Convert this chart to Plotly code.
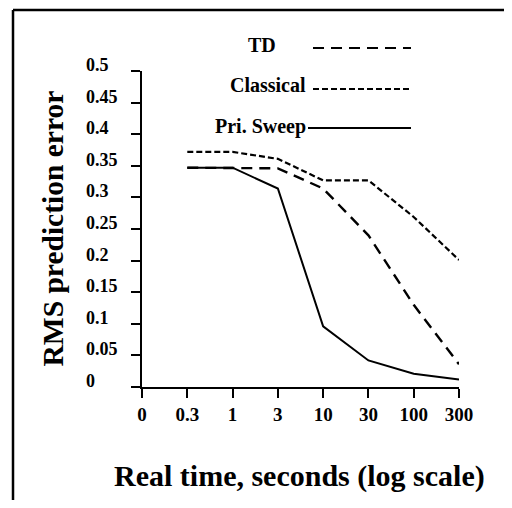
import plotly.graph_objects as go

# ---- data ----
x_labels = ["0", "0.3", "1", "3", "10", "30", "100", "300"]
x_points = ["0.3", "1", "3", "10", "30", "100", "300"]
td = [0.347, 0.347, 0.346, 0.314, 0.240, 0.130, 0.036]
classical = [0.372, 0.372, 0.361, 0.327, 0.327, 0.269, 0.201]
pri_sweep = [0.347, 0.347, 0.314, 0.096, 0.042, 0.021, 0.012]
y_ticks = [0, 0.05, 0.1, 0.15, 0.2, 0.25, 0.3, 0.35, 0.4, 0.45, 0.5]
y_tick_text = ["0", "0.05", "0.1", "0.15", "0.2", "0.25", "0.3", "0.35", "0.4", "0.45", "0.5"]
series_names = ["TD", "Classical", "Pri. Sweep"]

# page offset of the html body (8px default margin)
OFF = 8
W, H = 496, 492
L, T = 142 - OFF, 71 - OFF
R = W - (459 - OFF)
B = H - (387 - OFF)
pw, ph = W - L - R, H - T - B

def px(xp):  # page pixel -> paper x
    return (xp - OFF - L) / pw

def py(yp):  # page pixel -> paper y
    return (H - B - (yp - OFF)) / ph

SERIF = "Liberation Serif, Times New Roman, serif"
TD_DASH = "11px,7px"
CL_DASH = "6px,3px"

fig = go.Figure()
fig.add_trace(go.Scatter(x=x_points, y=classical, mode="lines", name=series_names[1],
                         line=dict(color="black", width=2.2, dash=CL_DASH)))
fig.add_trace(go.Scatter(x=x_points, y=td, mode="lines", name=series_names[0],
                         line=dict(color="black", width=2.4, dash=TD_DASH)))
fig.add_trace(go.Scatter(x=x_points, y=pri_sweep, mode="lines", name=series_names[2],
                         line=dict(color="black", width=2)))

fig.update_layout(
    width=W, height=H,
    margin=dict(l=L, r=R, t=T, b=B),
    paper_bgcolor="white", plot_bgcolor="white",
    showlegend=False,
    font=dict(family=SERIF, color="black"),
    xaxis=dict(
        type="category", categoryorder="array", categoryarray=x_labels,
        range=[0, 7], tickvals=x_labels, ticktext=x_labels,
        showline=True, linecolor="black", linewidth=2,
        ticks="outside", ticklen=9, tickwidth=2, tickcolor="black",
        showgrid=False, zeroline=False,
        tickfont=dict(family=SERIF, size=19, color="black", weight="bold"),
    ),
    yaxis=dict(
        range=[0, 0.5], tickvals=y_ticks, showticklabels=False,
        showline=True, linecolor="black", linewidth=2,
        ticks="outside", ticklen=9, tickwidth=2, tickcolor="black",
        showgrid=False, zeroline=False,
    ),
)

# x-axis title
fig.add_annotation(x=0.5 * (px(115) + px(483)), xref="paper", y=py(476), yref="paper",
                   text="<b>Real time, seconds (log scale)</b>", showarrow=False,
                   xanchor="center", yanchor="middle",
                   font=dict(family=SERIF, size=30, color="black"))

# y tick labels (left-aligned like the original)
for v, t in zip(y_ticks, y_tick_text):
    fig.add_annotation(x=px(84), xref="paper", y=v, yref="y", text=f"<b>{t}</b>",
                       showarrow=False, xanchor="left", yanchor="middle", yshift=6,
                       font=dict(family=SERIF, size=18, color="black"))

# y-axis title
fig.add_annotation(x=px(52), xref="paper", y=0.5 * (py(90) + py(367)), yref="paper",
                   text="<b>RMS prediction error</b>", textangle=-90, showarrow=False,
                   xanchor="center", yanchor="middle",
                   font=dict(family=SERIF, size=29.5, color="black"))

# legend (text + sample lines)
leg = [
    (series_names[0], 278, 45, 313, 48, TD_DASH),
    (series_names[1], 308, 85, 313, 89, CL_DASH),
    (series_names[2], 308, 126, 308, 128, "solid"),
]
for name, tx, ty, lx0, ly, dash in leg:
    fig.add_annotation(x=px(tx), xref="paper", y=py(ty), yref="paper", text=f"<b>{name}</b>",
                       showarrow=False, xanchor="right", yanchor="middle",
                       font=dict(family=SERIF, size=20, color="black"))
    fig.add_shape(type="line", xref="paper", yref="paper",
                  x0=px(lx0), x1=px(411), y0=py(ly), y1=py(ly),
                  line=dict(color="black", width=2.2, dash=dash))

# outer frame (top and left edges only; the rest falls outside the picture)
fig.add_shape(type="line", xref="paper", yref="paper",
              x0=px(13), x1=px(W + OFF), y0=py(10), y1=py(10),
              line=dict(color="black", width=2.5))
fig.add_shape(type="line", xref="paper", yref="paper",
              x0=px(13), x1=px(13), y0=py(10), y1=py(H + OFF),
              line=dict(color="black", width=2.5))

fig.write_html("out.html")
